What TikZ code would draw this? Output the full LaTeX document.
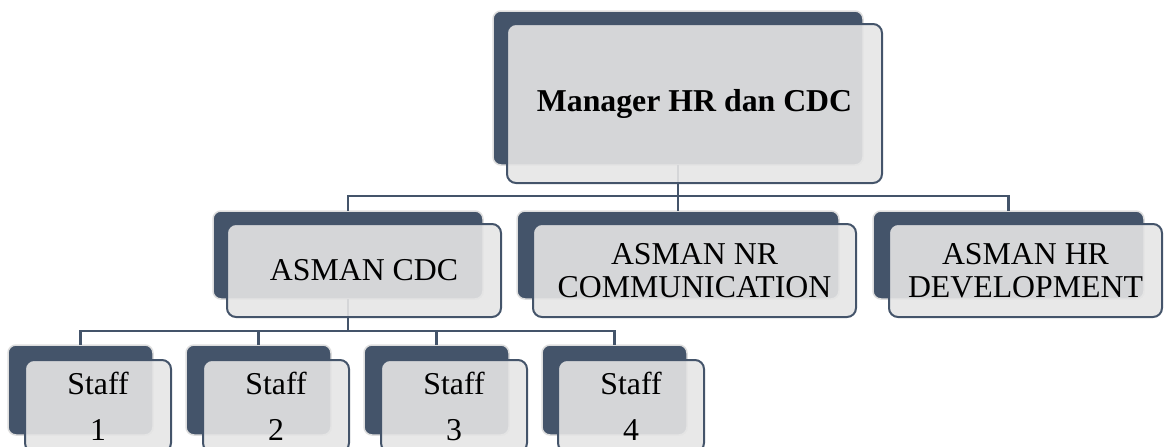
\documentclass[tikz,border=0pt]{standalone}
\usepackage{fontspec}
\setmainfont{Liberation Serif}
\definecolor{navy}{HTML}{44546A}
\definecolor{halo}{HTML}{DEDEDE}
\definecolor{paper}{HTML}{E5E5E5}
\begin{document}
\begin{tikzpicture}[x=1pt,y=-1pt,
  backbox/.style={draw=halo, line width=1.5pt, fill=navy, rounded corners=8pt,
    inner sep=0pt, outer sep=0pt, anchor=north west},
  frontbox/.style={draw=navy, line width=2pt, fill=paper, fill opacity=0.9,
    text opacity=1, rounded corners=9pt, inner sep=0pt, outer sep=0pt,
    align=center, anchor=north west},
  mgrfont/.style={font=\fontsize{31.8}{38}\selectfont\bfseries},
  midfont/.style={font=\fontsize{31.8}{33}\selectfont},
  stafffont/.style={font=\fontsize{31.8}{46}\selectfont},
  conn/.style={draw=navy, line width=2.2pt}]
\useasboundingbox (0,0) rectangle (1165,447);
% back (dark) boxes
\node[backbox, minimum width=370pt, minimum height=154pt] (mback) at (493,11) {};
\node[backbox, minimum width=270pt, minimum height=88pt] (cdcback) at (213,211) {};
\node[backbox, minimum width=322pt, minimum height=88pt] (ncback) at (517,211) {};
\node[backbox, minimum width=271pt, minimum height=88pt] (hrback) at (873,211) {};
\node[backbox, minimum width=145pt, minimum height=90pt] (s1back) at (8,345) {};
\node[backbox, minimum width=145pt, minimum height=90pt] (s2back) at (186,345) {};
\node[backbox, minimum width=145pt, minimum height=90pt] (s3back) at (364,345) {};
\node[backbox, minimum width=145pt, minimum height=90pt] (s4back) at (542,345) {};
% connectors
\draw[conn] (mback.south) -- ++(0,31) -| (cdcback.north);
\draw[conn] (mback.south) -- ++(0,31) -| (hrback.north);
\draw[conn] (mback.south) -- (ncback.north);
\draw[conn] (cdcback.south) -- ++(0,32) -| (s1back.north);
\draw[conn] (cdcback.south) -- ++(0,32) -| (s2back.north);
\draw[conn] (cdcback.south) -- ++(0,32) -| (s3back.north);
\draw[conn] (cdcback.south) -- ++(0,32) -| (s4back.north);
% front boxes
\node[frontbox, mgrfont, minimum width=375pt, minimum height=159pt] (mgr) at (507,24) {Manager HR dan CDC};
\node[frontbox, midfont, minimum width=274pt, minimum height=93pt] (cdc) at (227,224) {ASMAN CDC};
\node[frontbox, midfont, minimum width=323pt, minimum height=93pt] (nc) at (533,224) {ASMAN NR\\COMMUNICATION};
\node[frontbox, midfont, minimum width=273pt, minimum height=93pt] (hr) at (889,224) {ASMAN HR\\DEVELOPMENT};
\node[frontbox, stafffont, minimum width=146pt, minimum height=92pt] (s1) at (25,360) {Staff\\1};
\node[frontbox, stafffont, minimum width=146pt, minimum height=92pt] (s2) at (203,360) {Staff\\2};
\node[frontbox, stafffont, minimum width=146pt, minimum height=92pt] (s3) at (381,360) {Staff\\3};
\node[frontbox, stafffont, minimum width=146pt, minimum height=92pt] (s4) at (558,360) {Staff\\4};
\end{tikzpicture}
\end{document}
